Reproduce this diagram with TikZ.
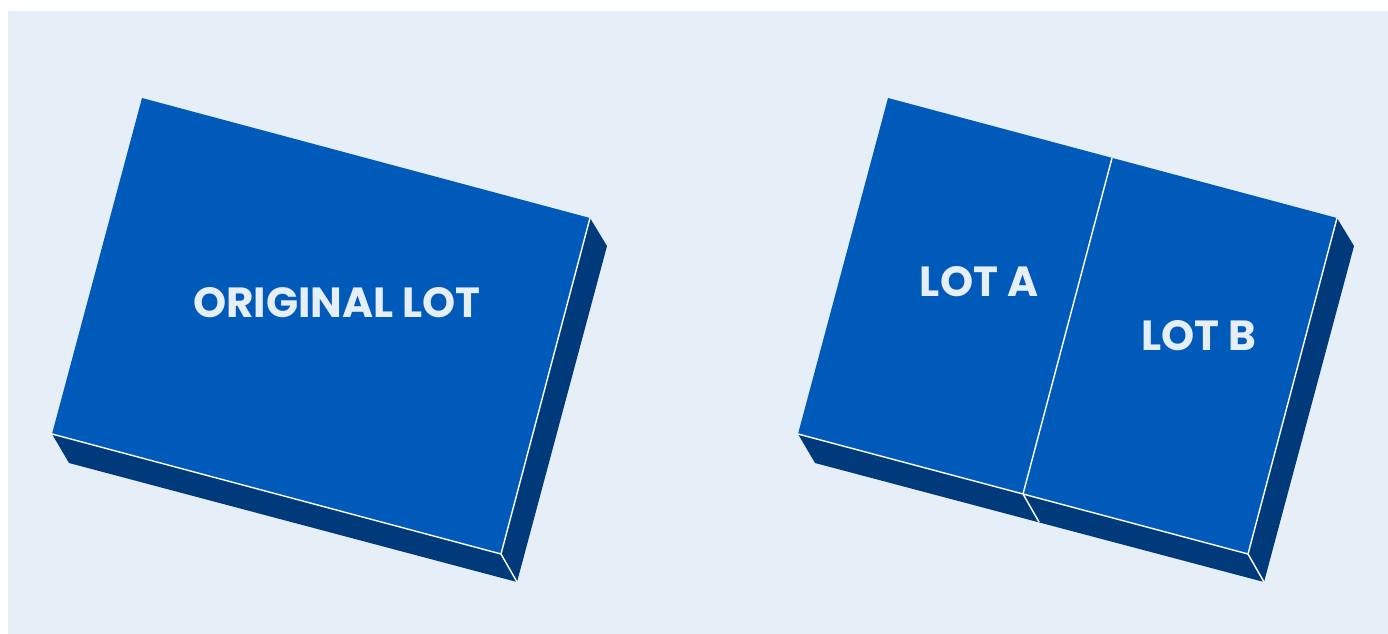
\documentclass[tikz,border=0pt]{standalone}
\usepackage{fontspec}
\setmainfont{Poppins}
\definecolor{pagebg}{HTML}{E6EEF8}
\definecolor{lotblue}{HTML}{005AB9}
\definecolor{lotdark}{HTML}{003A7A}
\tikzset{
  lottop/.style={fill=lotblue},
  lotside/.style={fill=lotdark},
  lotedge/.style={draw=white,line width=0.8pt,line join=round},
  lotlabel/.style={text=pagebg,font=\fontsize{24}{28}\selectfont\bfseries}
}
\begin{document}
\begin{tikzpicture}[x=0.02cm,y=-0.02cm]
\useasboundingbox (0,0) rectangle (1388,634);
\fill[white] (0,0) rectangle (1388,634);
\fill[pagebg] (8,11) rectangle (1388,634);
% original lot
\coordinate (oa) at (142,98);
\coordinate (ob) at (590,218);
\coordinate (oc) at (501,554);
\coordinate (od) at (52,434);
\path (ob) ++(17,28) coordinate (ob2);
\path (oc) ++(16,28) coordinate (oc2);
\path (od) ++(17,29) coordinate (od2);
\fill[lotside] (od) -- (oc) -- (ob) -- (ob2) -- (oc2) -- (od2) -- cycle;
\fill[lottop] (oa) -- (ob) -- (oc) -- (od) -- cycle;
\draw[lotedge] (od) -- (oc) -- (ob);
\draw[lotedge] (oc) -- (oc2);
\node[lotlabel] (orig) at (337,303) {ORIGINAL LOT};
% split lot
\coordinate (ra) at (888,98);
\coordinate (rb) at (1337,218);
\coordinate (rc) at (1248,554);
\coordinate (rd) at (798,434);
\coordinate (ma) at (1112,158);
\coordinate (mb) at (1023,494);
\path (rb) ++(17,28) coordinate (rb2);
\path (rc) ++(16,28) coordinate (rc2);
\path (rd) ++(17,29) coordinate (rd2);
\path (mb) ++(16,28) coordinate (mb2);
\fill[lotside] (rd) -- (rc) -- (rb) -- (rb2) -- (rc2) -- (rd2) -- cycle;
\fill[lottop] (ra) -- (rb) -- (rc) -- (rd) -- cycle;
\draw[lotedge] (rd) -- (rc) -- (rb);
\draw[lotedge] (rc) -- (rc2);
\draw[lotedge] (ma) -- (mb) -- (mb2);
\node[lotlabel] (lota) at (979,282) {LOT A};
\node[lotlabel] (lotb) at (1199,336) {LOT B};
\end{tikzpicture}
\end{document}
